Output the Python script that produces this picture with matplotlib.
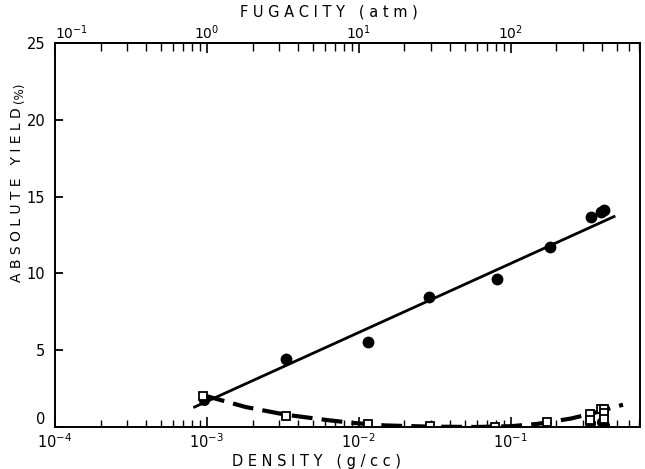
import matplotlib
matplotlib.use("Agg")
import matplotlib.pyplot as plt
import numpy as np

# absolute yield vs density (filled circles)
dens_fill = [3.3e-3, 1.15e-2, 2.9e-2, 8.1e-2, 0.181, 0.341, 0.395, 0.41]
yield_fill = [4.4, 5.55, 8.45, 9.65, 11.75, 13.65, 14.0, 14.1]

# second product (open squares)
dens_sq = [9.4e-4, 3.3e-3, 1.15e-2, 2.93e-2, 7.85e-2, 0.175, 0.335, 0.335, 0.395, 0.41, 0.41, 0.41]
yield_sq = [2.0, 0.7, 0.2, 0.05, 0.0, 0.3, 0.85, 0.45, 1.15, 1.2, 0.9, 0.55]

# low points hidden under the squares at the high-density end
dens_low = [9.6e-4, 0.335, 0.40, 0.41]
yield_low = [1.75, 0.25, 0.3, 0.15]

# straight line through the yield data
fit_x = [8.3e-4, 0.48]
fit_y = [1.3, 13.7]

# hand-drawn trend through the squares
trend_x = [9.6e-4, 1.8e-3, 3.3e-3, 6.2e-3, 9e-3, 1.5e-2, 3e-2, 6e-2, 1e-1, 0.15, 0.25, 0.35, 0.55]
trend_y = [2.05, 1.3, 0.8, 0.45, 0.27, 0.1, 0.02, 0.0, 0.05, 0.2, 0.55, 0.9, 1.45]

fig = plt.figure(figsize=(6.45, 4.69), dpi=100)
ax = fig.add_axes([0.0853, 0.0896, 0.9067, 0.8187])

ax.plot(fit_x, fit_y, color="black", lw=2.0)
ax.plot(trend_x, trend_y, color="black", lw=3.0, dashes=(5, 2.2))
ax.plot(dens_low, yield_low, "o", color="black", ms=7)
ax.plot(dens_fill, yield_fill, "o", color="black", ms=7.5)
ax.plot(dens_sq, yield_sq, "s", mfc="white", mec="black", mew=1.3, ms=6)

ax.set_xscale("log")
ax.set_xlim(1e-4, 0.71)
ax.set_ylim(0, 25)

for s in ax.spines.values():
    s.set_linewidth(1.4)

ax.set_yticks([0, 5, 10, 15, 20, 25])
ax.tick_params(axis="y", direction="in", length=6, width=1.3, labelsize=10.5, pad=7)
ax.get_yticklabels()[0].set_verticalalignment("bottom")
ax.tick_params(axis="x", which="major", direction="in", length=7, width=1.2, labelsize=10.5, pad=4)
ax.tick_params(axis="x", which="minor", direction="in", length=5, width=1.0)
ax.set_xticks([1e-4, 1e-3, 1e-2, 1e-1])
ax.set_xticklabels([r"$10^{-4}$", r"$10^{-3}$", r"$10^{-2}$", r"$10^{-1}$"])

# fugacity scale on top
top = ax.secondary_xaxis("top", functions=(lambda d: d * 1000, lambda f: f / 1000))
top.set_xticks([1e-1, 1e0, 1e1, 1e2])
top.set_xticklabels([r"$10^{-1}$", r"$10^{0}$", r"$10^{1}$", r"$10^{2}$"])
top.tick_params(axis="x", which="major", direction="in", length=7, width=1.2, labelsize=10, pad=1)
top.tick_params(axis="x", which="minor", direction="in", length=6, width=1.0)
top.spines["top"].set_linewidth(1.4)
for lbl in top.get_xticklabels()[:1]:
    lbl.set_horizontalalignment("left")
    lbl.set_x(1e-1)

fig.text(0.51, 0.975, "F U G A C I T Y   ( a t m )", ha="center", va="center", fontsize=10.5)
fig.text(0.49, 0.016, "D E N S I T Y   ( g / c c )", ha="center", va="center", fontsize=10.5)
fig.text(0.026, 0.584, "A B S O L U T E   Y I E L D", rotation=90, ha="center", va="center", fontsize=10)
fig.text(0.031, 0.802, "(%)", rotation=90, ha="center", va="center", fontsize=8.5)

fig.savefig("out.png", dpi=100)
